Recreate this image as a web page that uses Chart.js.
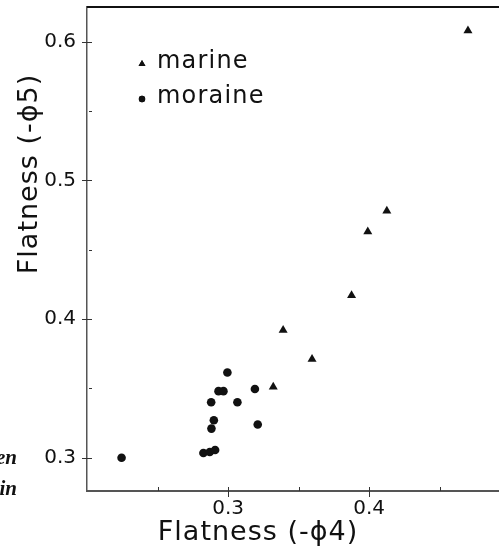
<!DOCTYPE html>
<html>
<head>
<meta charset="utf-8">
<script src="https://cdn.jsdelivr.net/npm/chart.js@4.4.1/dist/chart.umd.min.js"></script>
<style>
  html, body { margin: 0; padding: 0; background: #fff; overflow: hidden; }
  #wrap { width: 499px; height: 551px; }
</style>
</head>
<body>
<div id="wrap"><canvas id="chart" width="499" height="551"></canvas></div>
<script>
// Flatness values
const marineX = [0.332, 0.339, 0.3595, 0.3875, 0.399, 0.4125, 0.470];
const marineY = [0.351, 0.392, 0.371, 0.417, 0.463, 0.478, 0.608];

const moraineX = [0.2245, 0.2825, 0.287, 0.2908, 0.2882, 0.2899, 0.288, 0.3066, 0.2932, 0.2967, 0.2995, 0.319, 0.321];
const moraineY = [0.300, 0.3034, 0.3041, 0.3056, 0.321, 0.327, 0.340, 0.340, 0.348, 0.348, 0.3614, 0.3495, 0.324];

// tick positions and labels (blank label = minor tick)
const xTickValues = [0.25, 0.3, 0.35, 0.4, 0.45];
const xTickLabels = ['', '0.3', '', '0.4', ''];
const yTickValues = [0.3, 0.35, 0.4, 0.45, 0.5, 0.55, 0.6];
const yTickLabels = ['0.3', '', '0.4', '', '0.5', '', '0.6'];

const seriesNames = ['marine', 'moraine'];
const xTitle = 'Flatness (-\u03D54)';
const yTitle = 'Flatness (-\u03D55)';

const INK = '#111';
const AXIS = '#555';
const FONT = '"DejaVu Sans", sans-serif';

function toPoints(xs, ys) {
    return xs.map((x, i) => ({ x: x, y: ys[i] }));
}

// no label padding, the frame sits at fixed offsets
function noPadding(s) {
    s.paddingTop = 0;
    s.paddingBottom = 0;
    s.paddingLeft = 0;
    s.paddingRight = 0;
}

// Draw ticks, titles, legend and the frame line on top
const decorPlugin = {
    id: 'decor',
    afterDraw(chart) {
        const ctx = chart.ctx;
        const area = chart.chartArea;
        const xs = chart.scales.x;
        const ys = chart.scales.y;

        ctx.save();

        // top frame line
        ctx.strokeStyle = INK;
        ctx.lineWidth = 2;
        ctx.beginPath();
        ctx.moveTo(area.left, area.top);
        ctx.lineTo(area.right, area.top);
        ctx.stroke();

        // tick marks: majors cross the axis, minors sit inside
        ctx.strokeStyle = '#333';
        ctx.lineWidth = 1;
        xTickValues.forEach((v, i) => {
            const px = Math.round(xs.getPixelForValue(v)) + 0.5;
            const major = xTickLabels[i] !== '';
            ctx.beginPath();
            ctx.moveTo(px, area.bottom - 4);
            ctx.lineTo(px, area.bottom + (major ? 6 : 0));
            ctx.stroke();
        });
        yTickValues.forEach((v, i) => {
            const py = Math.round(ys.getPixelForValue(v)) + 0.5;
            const major = yTickLabels[i] !== '';
            ctx.beginPath();
            ctx.moveTo(area.left + (major ? -5 : 2), py);
            ctx.lineTo(area.left + 5, py);
            ctx.stroke();
        });

        // axis titles
        ctx.fillStyle = INK;
        ctx.font = '27px ' + FONT;
        ctx.letterSpacing = '1px';
        ctx.textAlign = 'center';
        ctx.textBaseline = 'alphabetic';
        ctx.fillText(xTitle, 258, 540);

        ctx.save();
        ctx.translate(37, 174);
        ctx.rotate(-Math.PI / 2);
        ctx.fillText(yTitle, 0, 0);
        ctx.restore();

        // legend
        const styles = ['triangle', 'circle'];
        const radii = [4, 3.2];
        const rowY = [64, 99];
        ctx.font = '24px ' + FONT;
        ctx.letterSpacing = '1.2px';
        ctx.textAlign = 'left';
        seriesNames.forEach((name, i) => {
            ctx.fillStyle = INK;
            ctx.strokeStyle = INK;
            Chart.helpers.drawPoint(ctx, { pointStyle: styles[i], radius: radii[i], borderWidth: 0 }, 142, rowY[i]);
            ctx.fill();
            ctx.fillText(name, 157, rowY[i] + 4);
        });

        // fragments of the neighbouring page text
        ctx.letterSpacing = '0px';
        ctx.font = 'italic bold 21px "Liberation Serif", serif';
        ctx.textAlign = 'right';
        ctx.fillText('en', 17, 464);
        ctx.fillText('in', 17, 495);

        ctx.restore();
    }
};

new Chart(document.getElementById('chart'), {
    type: 'scatter',
    data: {
        datasets: [
            {
                label: seriesNames[0],
                data: toPoints(marineX, marineY),
                pointStyle: 'triangle',
                pointRadius: 5.2,
                pointHoverRadius: 5.2,
                backgroundColor: INK,
                borderColor: INK,
                borderWidth: 0
            },
            {
                label: seriesNames[1],
                data: toPoints(moraineX, moraineY),
                pointStyle: 'circle',
                pointRadius: 4.3,
                pointHoverRadius: 4.3,
                backgroundColor: INK,
                borderColor: INK,
                borderWidth: 0
            }
        ]
    },
    options: {
        responsive: false,
        animation: false,
        layout: { autoPadding: false, padding: { top: 7, right: 0, left: 0, bottom: 0 } },
        plugins: {
            legend: { display: false },
            tooltip: { enabled: false }
        },
        scales: {
            x: {
                type: 'linear',
                min: 0.2,
                max: 0.492,
                afterFit: s => { s.height = 60; noPadding(s); },
                afterBuildTicks: s => { s.ticks = xTickValues.map(v => ({ value: v })); },
                grid: { display: false, drawTicks: false },
                border: { display: true, color: AXIS, width: 2 },
                ticks: {
                    autoSkip: false,
                    maxRotation: 0,
                    padding: 6,
                    color: INK,
                    font: { family: FONT, size: 20 },
                    callback: (v, i) => xTickLabels[i]
                }
            },
            y: {
                type: 'linear',
                min: 0.276,
                max: 0.625,
                afterFit: s => { s.width = 87; noPadding(s); },
                afterBuildTicks: s => { s.ticks = yTickValues.map(v => ({ value: v })); },
                grid: { display: false, drawTicks: false },
                border: { display: true, color: AXIS, width: 1.5 },
                ticks: {
                    autoSkip: false,
                    padding: 11,
                    color: INK,
                    font: { family: FONT, size: 20 },
                    callback: (v, i) => yTickLabels[i]
                }
            }
        }
    },
    plugins: [decorPlugin]
});
</script>
</body>
</html>
